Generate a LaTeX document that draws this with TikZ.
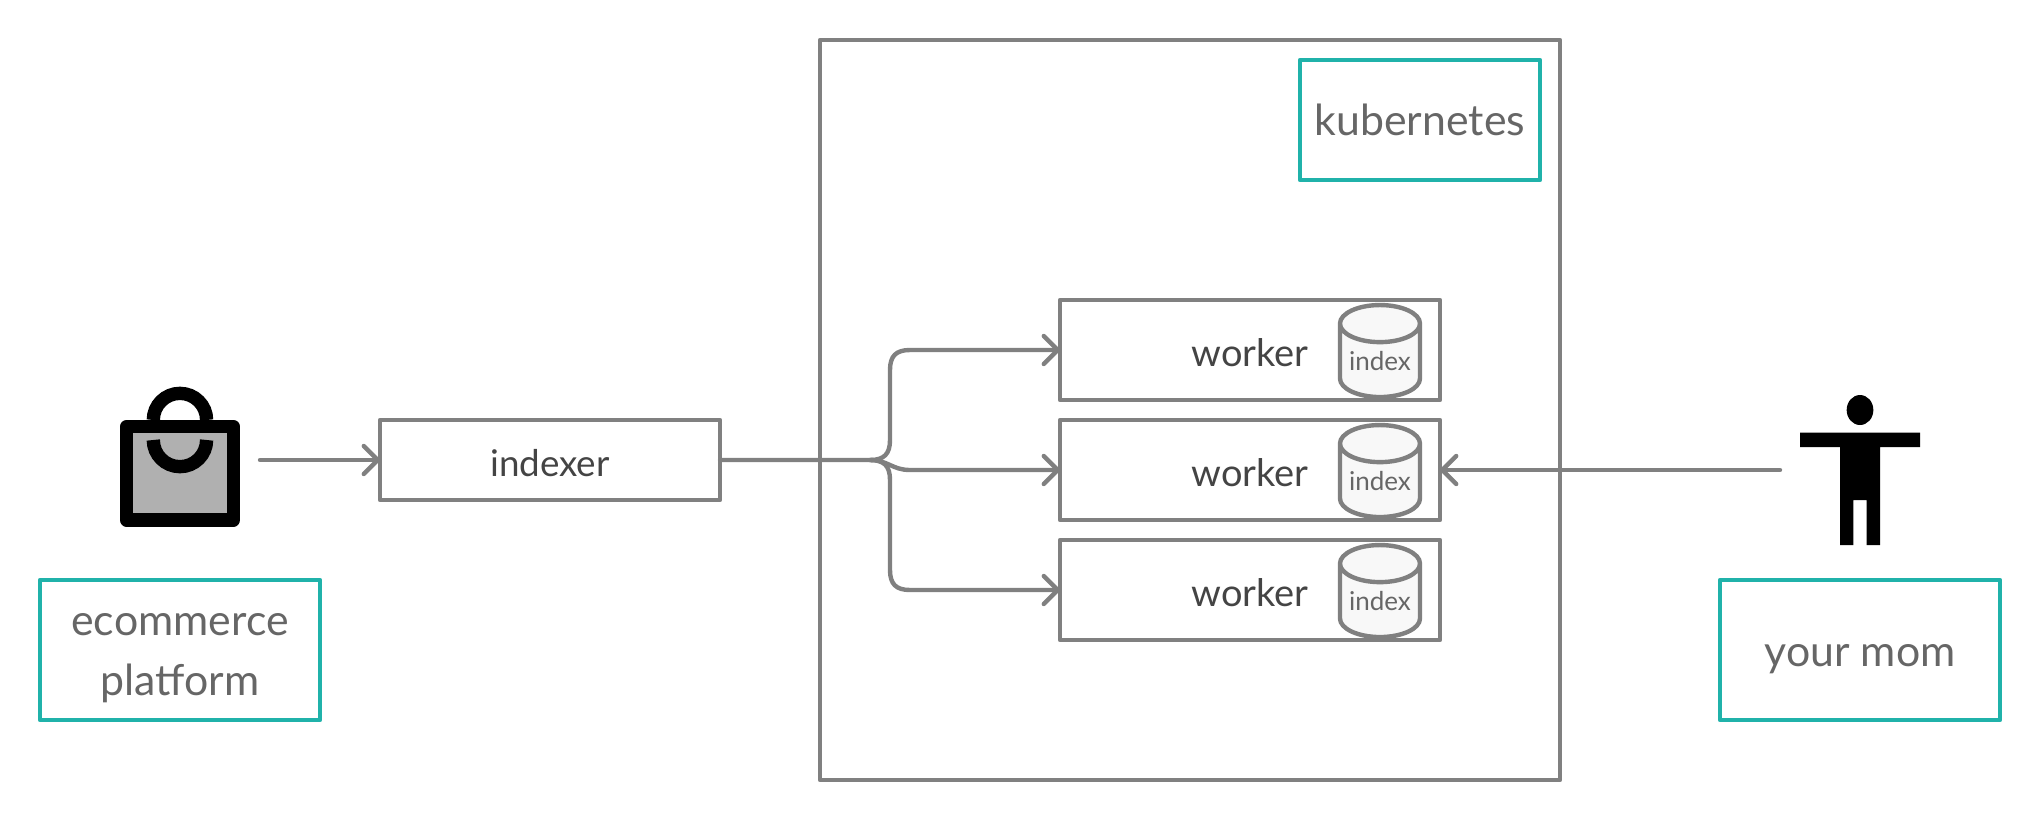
\documentclass[tikz,border=0pt]{standalone}
\usepackage{fontspec}
\setmainfont{Lato}
\usetikzlibrary{shapes.geometric, arrows.meta, positioning}
\definecolor{linegray}{HTML}{808080}
\definecolor{tealline}{HTML}{20B2AA}
\definecolor{labelgray}{HTML}{666666}
\definecolor{workergray}{HTML}{444444}
\definecolor{bagfill}{HTML}{B0B0B0}
\definecolor{indexfill}{HTML}{F8F8F8}

\begin{document}
\begin{tikzpicture}[
  x=0.5pt, y=-0.5pt,
  box/.style={rectangle, draw=linegray, line width=2.2pt, line join=round, outer sep=0pt},
  label/.style={rectangle, draw=tealline, line width=2.2pt, line join=round, outer sep=0pt, minimum width=140pt, minimum height=70pt, text=labelgray, align=center, text depth=5pt, font=\fontsize{21.4}{30}\selectfont},
  workerbox/.style={box, minimum width=190pt, minimum height=50pt, text=workergray, text depth=0pt, text height=16pt, font=\fontsize{19}{22}\selectfont},
  indexdb/.style={cylinder, shape border rotate=90, aspect=0.6, draw=linegray, fill=indexfill, line width=2.2pt, outer sep=0pt, inner sep=0pt, minimum width=40pt, minimum height=46pt, yshift=-5.7pt, text=labelgray, font=\fontsize{13}{15}\selectfont},
  arrow/.style={-{Straight Barb[length=7pt,width=14pt,round]}, draw=linegray, line width=2.2pt, line cap=round},
  iconline/.style={line width=6.67pt, draw=black}
]
  \useasboundingbox (0,0) rectangle (2040,820);

  \node[box, minimum width=370pt, minimum height=370pt] (cluster) at (1190,410) {};
  \node[label, minimum width=120pt, minimum height=60pt, text height=20.5pt] (k8s) at (1420,120) {kubernetes};

  \node[workerbox] (worker2) at (1250,470) {worker};
  \node[workerbox, above=10pt of worker2] (worker1) {worker};
  \node[workerbox, below=10pt of worker2] (worker3) {worker};
  \node[indexdb, left=10pt of worker1.east] (index1) {index};
  \node[indexdb, left=10pt of worker2.east] (index2) {index};
  \node[indexdb, left=10pt of worker3.east] (index3) {index};

  \node[box, minimum width=170pt, minimum height=40pt, text=workergray, text depth=0pt, text height=16pt, font=\fontsize{18.4}{22}\selectfont] (indexer) at (550,460) {indexer};
  \node[label, text height=50pt] (shop) at (180,650) {ecommerce\\platform};
  \node[label, text height=21pt] (mom) at (1860,650) {your mom};

  % shopping bag
  \draw[iconline, line join=round, fill=bagfill] (126.7,426.7) rectangle (233.3,520);
  \draw[iconline] (153.3,420) arc[start angle=180, end angle=0, radius=13.33pt];
  \draw[iconline] (153.3,440) arc[start angle=180, end angle=360, radius=13.33pt];
  \coordinate (bagout) at (260,460);

  % person
  \fill (1860,410) ellipse[x radius=6.67pt, y radius=7.5pt];
  \fill (1800,432.5) -- (1920,432.5) -- (1920,447) -- (1880,447) -- (1880,545) -- (1866.7,545)
    -- (1866.7,500) -- (1853.3,500) -- (1853.3,545) -- (1840,545) -- (1840,447) -- (1800,447) -- cycle;
  \coordinate (momout) at (1780,470);

  \coordinate (fork) at (870,460);
  \draw[arrow] (bagout) -- (indexer.west);
  \draw[arrow] (momout) -- (worker2.east);
  \draw[arrow] (indexer.east) -- (fork) .. controls +(14,0) and +(0,14) .. ++(20,-20) -- (890,370) .. controls +(0,-14) and +(-14,0) .. ++(20,-20) -- (worker1.west);
  \draw[arrow] (fork) .. controls +(18,0) and +(-18,0) .. ++(40,10) -- (worker2.west);
  \draw[arrow] (fork) .. controls +(14,0) and +(0,-14) .. ++(20,20) -- (890,570) .. controls +(0,14) and +(-14,0) .. ++(20,20) -- (worker3.west);
\end{tikzpicture}
\end{document}
